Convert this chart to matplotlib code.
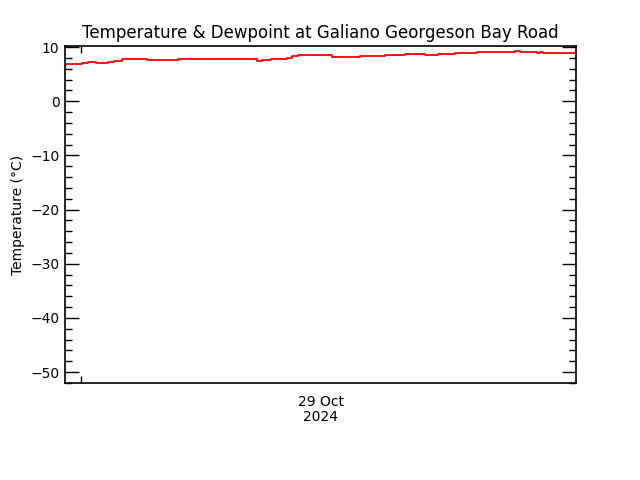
#Temperature chart for Galiano Georgeson Bay Road (IDL style)
import matplotlib
matplotlib.use('Agg')
import matplotlib.pyplot as plt
from matplotlib.ticker import MultipleLocator

#Hours relative to 29 Oct 2024 00:00, and temperature steps
hours = [-0.75, -0.70, 0.05, 0.33, 0.71, 1.27, 1.55, 1.93, 2.40, 3.10, 4.56, 5.03,
         5.22, 5.40, 8.27, 8.50, 8.93, 9.68, 9.91, 10.19, 11.79, 13.11, 14.28,
         15.22, 15.69, 16.16, 16.77, 17.19, 17.57, 18.13, 18.27, 18.60, 20.39,
         20.62, 21.00, 21.42, 21.56, 21.70, 23.06, 23.25]
temperature = [6.77, 6.96, 7.14, 7.32, 7.14, 7.32, 7.51, 7.75, 7.88, 7.69, 7.88, 7.75,
               7.88, 7.75, 7.51, 7.69, 7.80, 8.06, 8.30, 8.49, 8.25, 8.43, 8.62,
               8.80, 8.67, 8.49, 8.67, 8.80, 8.86, 8.99, 8.91, 9.04, 9.22,
               9.04, 9.17, 8.91, 9.04, 8.99, 8.94, 8.94]
date_label = "29 Oct\n2024"
title = "Temperature & Dewpoint at Galiano Georgeson Bay Road"

fig = plt.figure(figsize=(6.4, 4.8), dpi=100)
ax = fig.add_axes([65/640, 1 - 383/480, 511/640, 337/480])

ax.plot(hours, temperature, color='red', lw=1.3, drawstyle='steps-post')

ax.set_xlim(-0.75, 23.25)
ax.set_ylim(-52, 10.2)

#Y ticks every 10 with minor every 2, on both sides, pointing in
ax.yaxis.set_major_locator(MultipleLocator(10))
ax.yaxis.set_minor_locator(MultipleLocator(2))
ax.tick_params(axis='y', which='both', direction='in', left=True, right=True,
               labelsize=10, width=1)
ax.tick_params(axis='y', which='major', length=10, pad=4)
ax.tick_params(axis='y', which='minor', length=5)

#Single small tick at midnight, date written in the middle
ax.set_xticks([0])
ax.set_xticklabels([''])
ax.tick_params(axis='x', which='major', direction='in', top=True, bottom=True, length=5, width=1)
ax.text(0.5, -0.035, date_label, transform=ax.transAxes, ha='center', va='top',
        fontsize=10, linespacing=1.1)

for spine in ax.spines.values():
    spine.set_linewidth(1.2)

ax.set_ylabel("Temperature (°C)", fontsize=10, labelpad=4)
ax.set_title(title, fontsize=12, pad=6)

fig.savefig('out.png', dpi=100)
